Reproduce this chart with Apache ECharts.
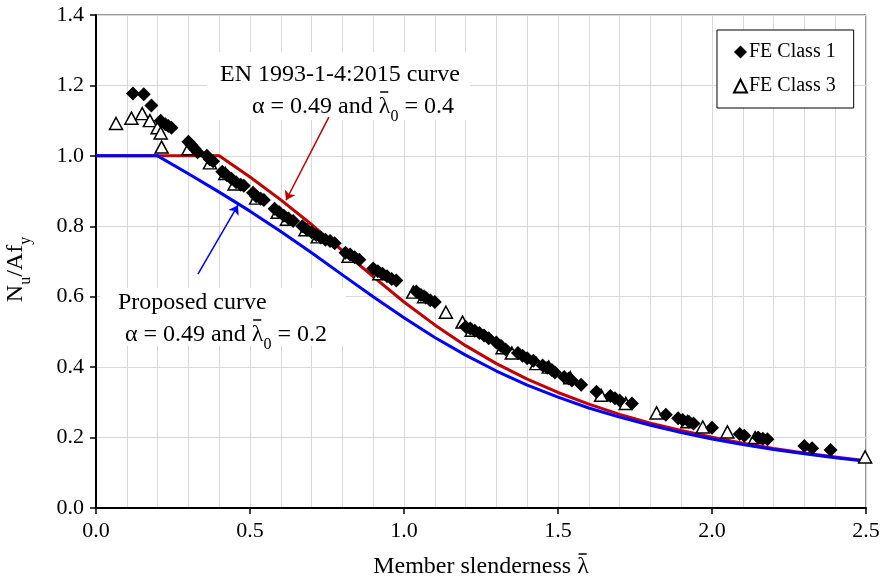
<!DOCTYPE html>
<html>
<head>
<meta charset="utf-8">
<script src="https://cdn.jsdelivr.net/npm/echarts@6/dist/echarts.min.js"></script>
<style>
  html, body { margin: 0; padding: 0; background: #fff; }
  #chart { width: 883px; height: 584px; }
</style>
</head>
<body>
<div id="chart"></div>
<script>
// slenderness values where the design curves are sampled
const curveX = [0, 0.1, 0.2, 0.3, 0.4, 0.5, 0.6, 0.7, 0.8, 0.9, 1.0, 1.1, 1.2, 1.3,
  1.4, 1.5, 1.6, 1.7, 1.8, 1.9, 2.0, 2.1, 2.2, 2.3, 2.4, 2.5];
// EN 1993-1-4:2015 curve (alpha 0.49, lambda0 0.4)
const enCurve = [1, 1, 1, 1, 1, 0.940, 0.875, 0.805, 0.731, 0.657, 0.585, 0.520, 0.461,
  0.410, 0.366, 0.328, 0.295, 0.266, 0.241, 0.220, 0.201, 0.184, 0.169, 0.156, 0.145, 0.134];
// proposed curve (alpha 0.49, lambda0 0.2)
const proposedCurve = [1, 1, 1, 0.949, 0.897, 0.843, 0.785, 0.725, 0.662, 0.600, 0.540,
  0.484, 0.434, 0.389, 0.349, 0.315, 0.284, 0.258, 0.235, 0.214, 0.196, 0.180, 0.166,
  0.154, 0.143, 0.133];

// FE results, [slenderness, Nu/Afy]
const feClass1 = [
  [0.12, 1.177], [0.155, 1.175], [0.18, 1.143], [0.21, 1.10], [0.225, 1.09], [0.235, 1.085], [0.245, 1.08],
  [0.30, 1.04], [0.31, 1.03], [0.32, 1.02], [0.33, 1.01],
  [0.36, 1.0], [0.37, 0.99], [0.38, 0.985],
  [0.41, 0.955], [0.425, 0.945], [0.44, 0.935], [0.455, 0.925], [0.47, 0.918], [0.48, 0.915],
  [0.51, 0.895], [0.52, 0.885], [0.535, 0.878], [0.545, 0.875],
  [0.58, 0.85], [0.595, 0.84], [0.61, 0.83], [0.625, 0.822], [0.64, 0.815],
  [0.67, 0.80], [0.685, 0.79], [0.70, 0.783], [0.715, 0.775], [0.73, 0.768], [0.745, 0.762], [0.76, 0.758], [0.775, 0.752],
  [0.81, 0.725], [0.825, 0.72], [0.84, 0.712], [0.855, 0.705],
  [0.90, 0.68], [0.915, 0.672], [0.93, 0.665], [0.945, 0.658], [0.96, 0.65], [0.975, 0.646],
  [1.04, 0.615], [1.055, 0.605], [1.07, 0.598], [1.085, 0.59], [1.10, 0.585],
  [1.20, 0.515], [1.215, 0.51], [1.23, 0.503], [1.245, 0.497], [1.26, 0.49], [1.275, 0.482],
  [1.30, 0.47], [1.315, 0.46], [1.33, 0.45],
  [1.37, 0.44], [1.385, 0.432], [1.40, 0.425], [1.42, 0.418],
  [1.45, 0.405], [1.465, 0.398], [1.48, 0.392], [1.49, 0.385],
  [1.52, 0.372], [1.535, 0.368], [1.545, 0.362], [1.575, 0.35],
  [1.625, 0.33], [1.67, 0.318], [1.685, 0.312], [1.70, 0.305], [1.74, 0.297],
  [1.85, 0.265], [1.89, 0.255], [1.905, 0.25], [1.925, 0.245], [1.94, 0.24],
  [2.00, 0.228], [2.09, 0.21], [2.105, 0.205], [2.15, 0.2], [2.165, 0.197], [2.18, 0.195],
  [2.30, 0.176], [2.325, 0.17], [2.385, 0.165]
];
const feClass3 = [
  [0.065, 1.092], [0.115, 1.107], [0.15, 1.12], [0.175, 1.10], [0.2, 1.08], [0.21, 1.065], [0.213, 1.025],
  [0.30, 1.02], [0.37, 0.98], [0.42, 0.95], [0.45, 0.92], [0.52, 0.88], [0.59, 0.84], [0.62, 0.82],
  [0.68, 0.79], [0.72, 0.77], [0.82, 0.715], [0.92, 0.665], [1.03, 0.613], [1.065, 0.6],
  [1.136, 0.556], [1.19, 0.528], [1.22, 0.505], [1.32, 0.455], [1.35, 0.44], [1.43, 0.41],
  [1.47, 0.40], [1.54, 0.37], [1.64, 0.32], [1.72, 0.297], [1.82, 0.27], [1.92, 0.245],
  [1.97, 0.23], [2.05, 0.216], [2.14, 0.2], [2.497, 0.145]
];

// arrow ends in data units: [from, to]
const enArrow = [[0.756, 1.11], [0.617, 0.874]];
const proposedArrow = [[0.331, 0.664], [0.461, 0.86]];

const FONT = "'Liberation Serif', 'Times New Roman', serif";

// text width helper, used to put the bar over lambda
const measureCtx = document.createElement('canvas').getContext('2d');
function textW(s, size) {
  measureCtx.font = size + 'px ' + FONT;
  return measureCtx.measureText(s).width;
}
// short bar over a lambda that starts at x, top of glyph at y
function lambdaBar(x, y, size) {
  const w = textW('\u03BB', size);
  return {
    type: 'line', z: 6,
    shape: { x1: x + w * 0.12, y1: y, x2: x + w * 0.82, y2: y },
    style: { stroke: '#000', lineWidth: 1.5 }
  };
}

const alphaPrefix = '\u03B1 = 0.49 and ';
const xName = 'Member slenderness \u03BB';
const gridLeft = 96, gridRight = 17;
const xNameCenter = gridLeft + (883 - gridLeft - gridRight) / 2;

const chart = echarts.init(document.getElementById('chart'));
const richSub = {
  t: { fontFamily: FONT, fontSize: 24, lineHeight: 28, fill: '#000' },
  s: { fontFamily: FONT, fontSize: 16, lineHeight: 36, verticalAlign: 'bottom', fill: '#000' }
};
const option = {
  animation: false,
  backgroundColor: '#fff',
  textStyle: { fontFamily: FONT, color: '#000' },
  grid: {
    left: gridLeft, right: gridRight, top: 15, bottom: 76,
    outerBoundsMode: 'none',
    show: true, borderColor: '#333', borderWidth: 1
  },
  legend: {
    orient: 'vertical',
    left: 717, top: 30,
    padding: [12, 18, 12, 16],
    itemGap: 14,
    itemWidth: 13, itemHeight: 13,
    backgroundColor: '#fff',
    borderColor: '#000', borderWidth: 1,
    data: ['FE Class 1', 'FE Class 3'],
    textStyle: { fontFamily: FONT, fontSize: 20, color: '#000', padding: [0, 0, 0, -3] }
  },
  xAxis: {
    type: 'value',
    min: 0, max: 2.5, interval: 0.5,
    name: xName,
    nameLocation: 'middle',
    nameGap: 47,
    nameTextStyle: { fontFamily: FONT, fontSize: 24, color: '#000' },
    axisLine: { onZero: false, lineStyle: { color: '#000', width: 2 } },
    axisTick: { show: true, inside: false, length: 6, lineStyle: { color: '#000', width: 1.5 } },
    axisLabel: { fontFamily: FONT, fontSize: 22, color: '#000', margin: 12, formatter: v => v.toFixed(1) },
    splitLine: { show: true, lineStyle: { color: '#d9d9d9', width: 1 } },
    minorTick: { show: false, splitNumber: 5 },
    minorSplitLine: { show: true, lineStyle: { color: '#d9d9d9', width: 1 } }
  },
  yAxis: {
    type: 'value',
    min: 0, max: 1.4, interval: 0.2,
    name: '{n|N}{s|u}{n|/Af}{s|y}',
    nameLocation: 'middle',
    nameGap: 62,
    nameTextStyle: {
      fontFamily: FONT, color: '#000', padding: [0, 16, 0, 0],
      rich: {
        n: { fontFamily: FONT, fontSize: 24, lineHeight: 28, color: '#000' },
        s: { fontFamily: FONT, fontSize: 16, lineHeight: 36, verticalAlign: 'bottom', color: '#000' }
      }
    },
    axisLine: { onZero: false, lineStyle: { color: '#000', width: 2 } },
    axisTick: { show: true, inside: false, length: 6, lineStyle: { color: '#000', width: 1.5 } },
    axisLabel: { fontFamily: FONT, fontSize: 22, color: '#000', margin: 12, formatter: v => v.toFixed(1) },
    splitLine: { show: true, lineStyle: { color: '#d9d9d9', width: 1 } }
  },
  graphic: [
    { type: 'rect', z: 1, shape: { x: 207, y: 52, width: 263, height: 68 }, style: { fill: '#fff' } },
    { type: 'rect', z: 1, shape: { x: 100, y: 288, width: 246, height: 58 }, style: { fill: '#fff' } },
    {
      type: 'text', z: 1, x: 220, y: 75,
      style: { text: 'EN 1993-1-4:2015 curve', fontFamily: FONT, fontSize: 24, fill: '#000', verticalAlign: 'middle' }
    },
    {
      type: 'text', z: 1, x: 252, y: 107,
      style: {
        text: '{t|' + alphaPrefix + '\u03BB}{s|0}{t| = 0.4}',
        fontFamily: FONT, fill: '#000', verticalAlign: 'middle', rich: richSub
      }
    },
    lambdaBar(252 + textW(alphaPrefix, 24), 92, 24),
    {
      type: 'text', z: 1, x: 118, y: 303,
      style: { text: 'Proposed curve', fontFamily: FONT, fontSize: 24, fill: '#000', verticalAlign: 'middle' }
    },
    {
      type: 'text', z: 1, x: 125, y: 335,
      style: {
        text: '{t|' + alphaPrefix + '\u03BB}{s|0}{t| = 0.2}',
        fontFamily: FONT, fill: '#000', verticalAlign: 'middle', rich: richSub
      }
    },
    lambdaBar(125 + textW(alphaPrefix, 24), 320, 24),
    lambdaBar(xNameCenter + textW(xName, 24) / 2 - textW('\u03BB', 24), 554, 24)
  ],
  series: [
    {
      name: 'EN 1993-1-4:2015',
      type: 'line',
      data: curveX.map((x, i) => [x, enCurve[i]]),
      showSymbol: false,
      lineStyle: { color: '#c00000', width: 3 },
      itemStyle: { color: '#c00000' },
      z: 3,
      markLine: {
        silent: true,
        symbol: ['none', 'arrow'],
        symbolSize: 9,
        label: { show: false },
        lineStyle: { color: '#c00000', width: 1.5, type: 'solid' },
        data: [[{ coord: enArrow[0] }, { coord: enArrow[1] }]]
      }
    },
    {
      name: 'Proposed',
      type: 'line',
      data: curveX.map((x, i) => [x, proposedCurve[i]]),
      showSymbol: false,
      lineStyle: { color: '#0000ff', width: 3 },
      itemStyle: { color: '#0000ff' },
      z: 3,
      markLine: {
        silent: true,
        symbol: ['none', 'arrow'],
        symbolSize: 9,
        label: { show: false },
        lineStyle: { color: '#0000ff', width: 1.5, type: 'solid' },
        data: [[{ coord: proposedArrow[0] }, { coord: proposedArrow[1] }]]
      }
    },
    {
      name: 'FE Class 3',
      type: 'scatter',
      data: feClass3,
      symbol: 'triangle',
      symbolSize: [13, 12],
      itemStyle: { color: '#fff', borderColor: '#000', borderWidth: 1.5, opacity: 1 },
      z: 4
    },
    {
      name: 'FE Class 1',
      type: 'scatter',
      data: feClass1,
      symbol: 'diamond',
      symbolSize: 14,
      itemStyle: { color: '#000', opacity: 1 },
      z: 5
    }
  ]
};
chart.setOption(option);
</script>
</body>
</html>
